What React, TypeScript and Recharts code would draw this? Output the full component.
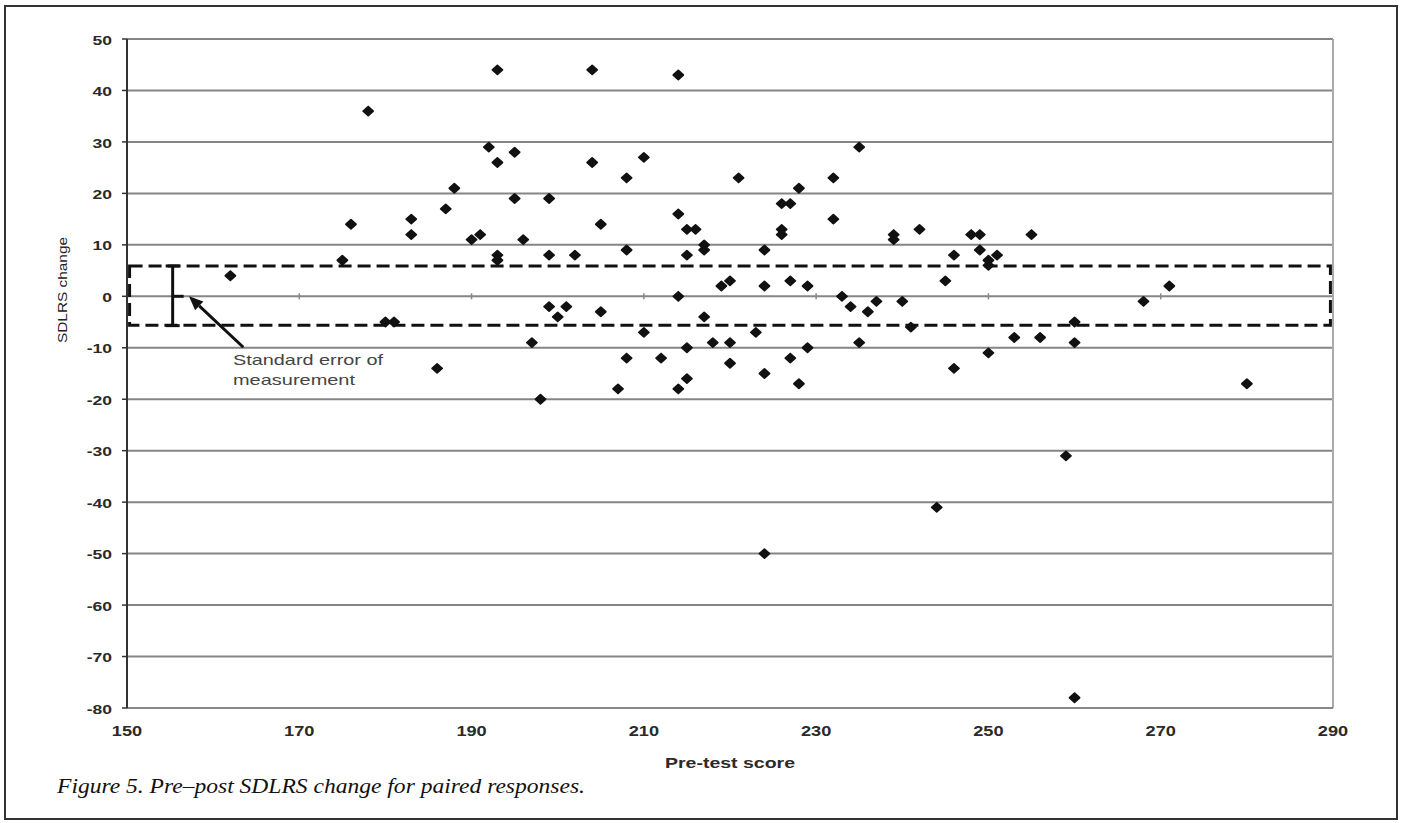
import { ScatterChart, Scatter, XAxis, YAxis, CartesianGrid, ReferenceArea, ReferenceLine, ReferenceDot, ErrorBar } from 'recharts';

// pre-test score of each paired response
const preTestScores = [
  162, 175, 176, 178, 180, 181, 183, 183, 186, 187, 188, 190, 191, 192, 193, 193, 193, 193,
  195, 195, 196, 197, 198, 199, 199, 199, 200, 201, 202, 204, 204, 205, 205, 207, 208, 208,
  208, 210, 210, 212, 214, 214, 214, 214, 215, 215, 215, 215, 216, 217, 217, 217, 218, 219,
  220, 220, 220, 221, 223, 224, 224, 224, 224, 226, 226, 226, 227, 227, 227, 228, 228, 229,
  229, 232, 232, 233, 234, 235, 235, 236, 237, 239, 239, 240, 241, 242, 244, 245, 246, 246,
  248, 249, 249, 250, 250, 250, 251, 253, 255, 256, 259, 260, 260, 260, 268, 271, 280,
];

// SDLRS change (post - pre), same order as above
const sdlrsChanges = [
  4, 7, 14, 36, -5, -5, 15, 12, -14, 17, 21, 11, 12, 29, 44, 26, 8, 7,
  28, 19, 11, -9, -20, 19, 8, -2, -4, -2, 8, 44, 26, 14, -3, -18, 23, 9,
  -12, 27, -7, -12, 43, 16, 0, -18, 13, 8, -10, -16, 13, 10, 9, -4, -9, 2,
  3, -9, -13, 23, -7, 9, 2, -15, -50, 18, 13, 12, 18, 3, -12, 21, -17, 2,
  -10, 23, 15, 0, -2, 29, -9, -3, -1, 12, 11, -1, -6, 13, -41, 3, 8, -14,
  12, 12, 9, 7, 6, -11, 8, -8, 12, -8, -31, -5, -9, -78, -1, 2, -17,
];

const xTicks = [150, 170, 190, 210, 230, 250, 270, 290];
const yTicks = [-80, -70, -60, -50, -40, -30, -20, -10, 0, 10, 20, 30, 40, 50];

// standard error of measurement band and its marker
const semLow = -5.6;
const semHigh = 5.9;
const semMarker = [{ x: 155.3, y: 0, err: [5.7, 5.9] }];
const arrowFrom = { x: 163.5, y: -9.9 };
const arrowTo = { x: 157.2, y: 0 };

const points = preTestScores.map((x, i) => ({ x, y: sdlrsChanges[i] }));

const FONT = '"Liberation Sans", Arial, sans-serif';

const YTick = ({ x, y, payload }: any) => (
  <text
    x={x}
    y={y + 1}
    textAnchor="end"
    dominantBaseline="central"
    fontSize={13}
    fontWeight="bold"
    fill="#2a2a2a"
    fontFamily={FONT}
    transform={`translate(${x} 0) scale(1.35 1) translate(${-x} 0)`}
  >
    {payload.value}
  </text>
);

const XTick = ({ x, y, payload }: any) => (
  <text
    x={x}
    y={y}
    textAnchor="middle"
    dominantBaseline="central"
    fontSize={14}
    fontWeight="bold"
    fill="#2a2a2a"
    fontFamily={FONT}
    transform={`translate(${x} 0) scale(1.3 1) translate(${-x} 0)`}
  >
    {payload.value}
  </text>
);

const Diamond = ({ cx, cy }: any) => (
  <polygon
    points={`${cx - 5},${cy} ${cx},${cy - 4.5} ${cx + 5},${cy} ${cx},${cy + 4.5}`}
    fill="#111"
    stroke="#111"
    strokeWidth={1.8}
    strokeLinejoin="round"
  />
);

const SemDash = ({ cx, cy }: any) => (
  <line x1={cx} y1={cy} x2={cx + 11} y2={cy} stroke="#111" strokeWidth={3} />
);

const AxisCross = ({ cx, cy }: any) => (
  <line x1={cx} y1={cy - 3} x2={cx} y2={cy + 3} stroke="#888" strokeWidth={1.5} />
);

const Arrow = (p: any) => {
  const { x1, y1, x2, y2 } = p;
  const a = Math.atan2(y2 - y1, x2 - x1);
  const len = 14;
  const w = 6;
  const bx = x2 - len * Math.cos(a);
  const by = y2 - len * Math.sin(a);
  const pts = `${x2},${y2} ${bx - w * Math.sin(a)},${by + w * Math.cos(a)} ${bx + w * Math.sin(a)},${by - w * Math.cos(a)}`;
  return (
    <g>
      <line x1={x1} y1={y1} x2={bx} y2={by} stroke="#111" strokeWidth={3} />
      <polygon points={pts} fill="#111" />
    </g>
  );
};

export default function App() {
  return (
    <div style={{ position: 'absolute', left: 0, top: 0, width: 1401, height: 823, background: '#fff' }}>
      <ScatterChart width={1401} height={823} margin={{ top: 39, right: 68, bottom: 85, left: 67 }}>
        <CartesianGrid vertical={false} stroke="#858585" strokeWidth={2} />
        <XAxis
          type="number"
          dataKey="x"
          domain={[150, 290]}
          ticks={xTicks}
          interval={0}
          tick={XTick}
          tickLine={false}
          tickSize={0}
          tickMargin={23}
          height={30}
          axisLine={{ stroke: '#888', strokeWidth: 2 }}
        />
        <YAxis
          type="number"
          dataKey="y"
          domain={[-80, 50]}
          ticks={yTicks}
          interval={0}
          tick={YTick}
          width={60}
          tickSize={5}
          tickMargin={10}
          tickLine={{ stroke: '#333', strokeWidth: 1.5 }}
          axisLine={{ stroke: '#333', strokeWidth: 2 }}
        />
        <ReferenceLine x={290} stroke="#aaa" strokeWidth={2} />
        {xTicks.slice(1, -1).map((t) => (
          <ReferenceDot key={t} x={t} y={0} r={0} shape={AxisCross} />
        ))}
        <ReferenceArea
          x1={150.3}
          x2={289.7}
          y1={semLow}
          y2={semHigh}
          fill="none"
          fillOpacity={0}
          stroke="#111"
          strokeWidth={3}
          strokeDasharray="13 6"
        />
        <ReferenceLine segment={[arrowFrom, arrowTo]} shape={Arrow} />
        <Scatter data={points} shape={Diamond} isAnimationActive={false} />
        <Scatter data={semMarker} shape={SemDash} isAnimationActive={false}>
          <ErrorBar dataKey="err" direction="y" width={7} stroke="#111" strokeWidth={3} />
        </Scatter>
      </ScatterChart>
      <svg
        width={1401}
        height={823}
        style={{ position: 'absolute', left: 0, top: 0, pointerEvents: 'none' }}
      >
        <rect x={5} y={6} width={1392} height={813} fill="none" stroke="#333" strokeWidth={2} />
        <text
          x={0}
          y={0}
          transform="translate(67 290) rotate(-90)"
          textAnchor="middle"
          fontSize={13}
          fill="#222"
          fontFamily={FONT}
          textLength={106}
          lengthAdjust="spacingAndGlyphs"
        >
          SDLRS change
        </text>
        <text
          x={665}
          y={768}
          fontSize={15}
          fontWeight="bold"
          fill="#2a2a2a"
          fontFamily={FONT}
          textLength={130}
          lengthAdjust="spacingAndGlyphs"
        >
          Pre-test score
        </text>
        <text x={233} y={365} fontSize={15} fill="#444" fontFamily={FONT} textLength={150} lengthAdjust="spacingAndGlyphs">
          Standard error of
        </text>
        <text x={233} y={385} fontSize={15} fill="#444" fontFamily={FONT} textLength={122} lengthAdjust="spacingAndGlyphs">
          measurement
        </text>
        <text
          x={57}
          y={793}
          fontSize={21}
          fontStyle="italic"
          fill="#111"
          fontFamily='"Liberation Serif", "DejaVu Serif", serif'
          textLength={528}
          lengthAdjust="spacingAndGlyphs"
        >
          Figure 5. Pre–post SDLRS change for paired responses.
        </text>
      </svg>
    </div>
  );
}
